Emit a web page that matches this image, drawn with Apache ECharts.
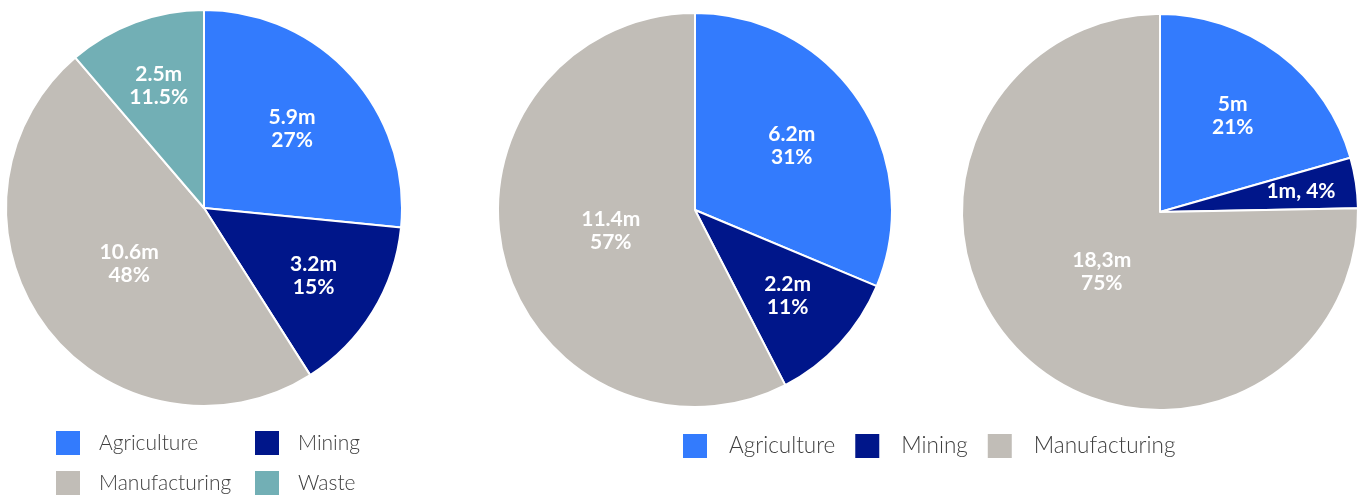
<!DOCTYPE html>
<html>
<head>
<meta charset="utf-8">
<script src="https://cdn.jsdelivr.net/npm/echarts@6/dist/echarts.min.js"></script>
<style>
  html, body { margin: 0; padding: 0; background: #fff; }
  #chart { width: 1364px; height: 498px; }
</style>
</head>
<body>
<div id="chart"></div>
<script>
// Sector data (value in millions, share as printed on the slice)
const categories = ['Agriculture', 'Mining', 'Manufacturing', 'Waste'];
const colors = ['#337BFD', '#00168A', '#C1BDB7', '#72AFB5'];

const valuesA = [5.9, 3.2, 10.6, 2.5];
const sharesA = ['27%', '15%', '48%', '11.5%'];

const valuesB = [6.2, 2.2, 11.4];
const sharesB = ['31%', '11%', '57%'];

const valuesC = [5, 1, 18.3];
const sharesC = ['21%', '4%', '75%'];

const legendLeft = ['Agriculture', 'Manufacturing'];
const legendRight = ['Mining', 'Waste'];
const legendBottom = ['Agriculture', 'Mining', 'Manufacturing'];

// Geometry and label placement of each pie
const pies = [
  { center: [204, 208], radius: 198, labelRadius: [0.60, 0.65, 0.47, 0.66], sep: '.', inline: [] },
  { center: [695, 210], radius: 197, labelRadius: [0.59, 0.64, 0.44], sep: '.', inline: [] },
  { center: [1160, 212], radius: 198, labelRadius: [0.61, 0.72, 0.42], sep: ',', inline: [1] }
];

const FONT = 'Lato, "Open Sans", sans-serif';

function buildData(values, shares) {
  return values.map((v, i) => ({
    name: categories[i],
    value: v,
    share: shares[i],
    itemStyle: { color: colors[i] }
  }));
}

function makeSeries(idx, values, shares) {
  const cfg = pies[idx];
  return {
    type: 'pie',
    center: cfg.center,
    radius: [0, cfg.radius],
    startAngle: 90,
    clockwise: true,
    silent: true,
    animation: false,
    itemStyle: { borderColor: '#ffffff', borderWidth: 2 },
    label: {
      show: true,
      position: 'inside',
      color: '#ffffff',
      fontFamily: FONT,
      fontWeight: 'bold',
      fontSize: 21,
      lineHeight: 23,
      formatter: function (p) {
        const v = String(p.data.value).replace('.', cfg.sep) + 'm';
        return cfg.inline.indexOf(p.dataIndex) >= 0
          ? v + ', ' + p.data.share
          : v + '\n' + p.data.share;
      }
    },
    labelLine: { show: false },
    // push each label along its bisector to the chosen fraction of the radius
    labelLayout: function (p) {
      const r = p.labelRect;
      const lx = r.x + r.width / 2, ly = r.y + r.height / 2;
      const dx = lx - cfg.center[0], dy = ly - cfg.center[1];
      const d = Math.hypot(dx, dy) || 1;
      const k = cfg.labelRadius[p.dataIndex] * cfg.radius / d;
      return {
        x: cfg.center[0] + dx * k,
        y: cfg.center[1] + dy * k,
        align: 'center',
        verticalAlign: 'middle'
      };
    },
    data: buildData(values, shares)
  };
}

function makeLegend(names, left, top, orient, gap, textGap, fontSize) {
  return {
    data: names,
    left: left,
    top: top,
    orient: orient,
    padding: 0,
    itemWidth: 24,
    itemHeight: 24,
    itemGap: gap,
    icon: 'rect',
    selectedMode: false,
    itemStyle: { borderWidth: 0 },
    textStyle: {
      fontFamily: FONT,
      fontSize: fontSize,
      fontWeight: 300,
      color: '#404040',
      padding: [0, 0, 0, textGap]
    }
  };
}

const chart = echarts.init(document.getElementById('chart'), null, { renderer: 'canvas' });
chart.setOption({
  backgroundColor: '#ffffff',
  animation: false,
  legend: [
    makeLegend(legendLeft, 56, 431, 'vertical', 16, 14, 21),
    makeLegend(legendRight, 255, 431, 'vertical', 16, 14, 21),
    makeLegend(legendBottom, 683, 434, 'horizontal', 20, 17, 22.5)
  ],
  series: [
    makeSeries(0, valuesA, sharesA),
    makeSeries(1, valuesB, sharesB),
    makeSeries(2, valuesC, sharesC)
  ]
});
</script>
</body>
</html>
